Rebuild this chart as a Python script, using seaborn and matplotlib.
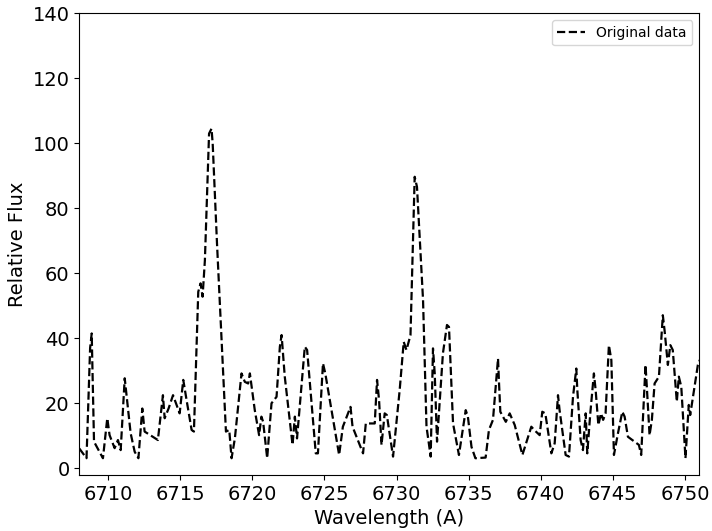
import matplotlib
matplotlib.use("Agg")
import matplotlib.pyplot as plt
import seaborn as sns
import pandas as pd

wavelength = [
    6708.0, 6708.5, 6708.75, 6708.86, 6709.02, 6709.64, 6709.94, 6710.1, 6710.45, 6710.68,
    6710.87, 6711.15, 6711.56, 6711.84, 6712.1, 6712.37, 6712.53, 6713.45, 6713.8, 6713.92,
    6714.2, 6714.5, 6714.96, 6715.21, 6715.44, 6715.79, 6715.95, 6716.25, 6716.41, 6716.55,
    6716.71, 6717.0, 6717.17, 6717.25, 6717.55, 6718.17, 6718.4, 6718.56, 6718.79, 6719.25,
    6719.48, 6719.71, 6719.83, 6720.17, 6720.47, 6720.63, 6720.75, 6721.03, 6721.33, 6721.68,
    6721.91, 6722.03, 6722.25, 6722.79, 6722.95, 6723.1, 6723.64, 6723.8, 6724.4, 6724.55,
    6724.9, 6725.06, 6726.02, 6726.28, 6726.81, 6726.95, 6727.68, 6727.87, 6728.49, 6728.65,
    6728.79, 6728.96, 6729.18, 6729.33, 6729.76, 6730.22, 6730.5, 6730.69, 6730.97, 6731.26,
    6731.42, 6731.84, 6732.08, 6732.37, 6732.53, 6732.65, 6732.81, 6733.22, 6733.5, 6733.64,
    6733.92, 6734.33, 6734.8, 6734.95, 6735.2, 6735.47, 6736.18, 6736.41, 6736.69, 6737.04,
    6737.1, 6737.2, 6737.58, 6737.85, 6738.2, 6738.73, 6739.35, 6739.55, 6739.93, 6740.11,
    6740.32, 6740.74, 6740.97, 6741.2, 6741.31, 6741.73, 6741.96, 6742.24, 6742.47, 6742.54,
    6742.77, 6742.93, 6743.12, 6743.23, 6743.44, 6743.69, 6743.81, 6744.0, 6744.18, 6744.33,
    6744.5, 6744.73, 6744.9, 6745.08, 6745.36, 6745.66, 6745.82, 6746.05, 6746.81, 6746.97,
    6747.27, 6747.36, 6747.55, 6747.71, 6747.9, 6748.2, 6748.47, 6748.59, 6748.82, 6748.99,
    6749.16, 6749.44, 6749.58, 6749.75, 6750.04, 6750.27, 6750.37, 6750.9, 6751.1,
]
flux = [
    6.1, 3.1, 37.0, 41.5, 8.2, 3.1, 15.4, 10.2, 6.2, 8.7,
    5.6, 27.7, 10.8, 5.1, 3.1, 18.4, 11.3, 8.7, 22.5, 15.4,
    18.5, 22.5, 16.9, 27.2, 21.0, 11.8, 11.3, 54.3, 56.9, 52.8,
    64.0, 103.0, 104.5, 100.0, 69.2, 11.3, 11.8, 3.1, 9.2, 29.2,
    26.6, 26.1, 29.2, 17.9, 10.2, 15.9, 14.3, 3.1, 20.0, 22.0,
    37.4, 41.0, 28.2, 7.2, 15.9, 9.2, 37.4, 36.4, 4.6, 4.6,
    32.3, 29.2, 4.1, 12.8, 18.9, 12.8, 4.6, 13.8, 13.8, 27.2,
    21.0, 7.2, 16.9, 16.4, 3.6, 24.1, 38.9, 36.4, 41.0, 89.7,
    86.6, 51.8, 12.8, 3.6, 36.9, 29.2, 8.2, 35.4, 44.1, 43.5,
    13.8, 4.1, 17.9, 15.9, 6.6, 3.1, 3.3, 11.8, 14.9, 33.8,
    27.2, 17.4, 14.3, 16.9, 13.3, 4.1, 12.8, 11.8, 10.2, 17.4,
    16.9, 4.6, 7.7, 22.5, 17.9, 4.1, 3.6, 22.0, 30.7, 24.1,
    8.7, 5.6, 16.9, 4.6, 16.9, 29.2, 24.1, 13.3, 16.9, 14.9,
    16.9, 37.9, 33.3, 4.1, 10.8, 17.4, 15.9, 9.7, 7.2, 4.1,
    31.8, 25.1, 10.2, 14.9, 26.1, 28.2, 47.1, 42.5, 31.8, 37.9,
    36.4, 20.5, 28.2, 25.1, 3.1, 19.5, 16.4, 31.8, 34.0,
]

df = pd.DataFrame({"Wavelength": wavelength, "Flux": flux})

fig, ax = plt.subplots(figsize=(7.12, 5.31), dpi=100)
fig.subplots_adjust(left=79.3 / 712, right=699.3 / 712, top=1 - 13.3 / 531, bottom=1 - 474.8 / 531)

sns.lineplot(data=df, x="Wavelength", y="Flux", ax=ax, color="black",
             linestyle="--", linewidth=1.6, label="Original data", sort=False)

ax.set_xlim(6708, 6751)
ax.set_ylim(-2, 140)
ax.set_xlabel("Wavelength (A)", fontsize=14)
ax.set_ylabel("Relative Flux", fontsize=14)
ax.tick_params(labelsize=14)
ax.legend(loc="upper right", fontsize=10)

fig.savefig("out.png", dpi=100)
